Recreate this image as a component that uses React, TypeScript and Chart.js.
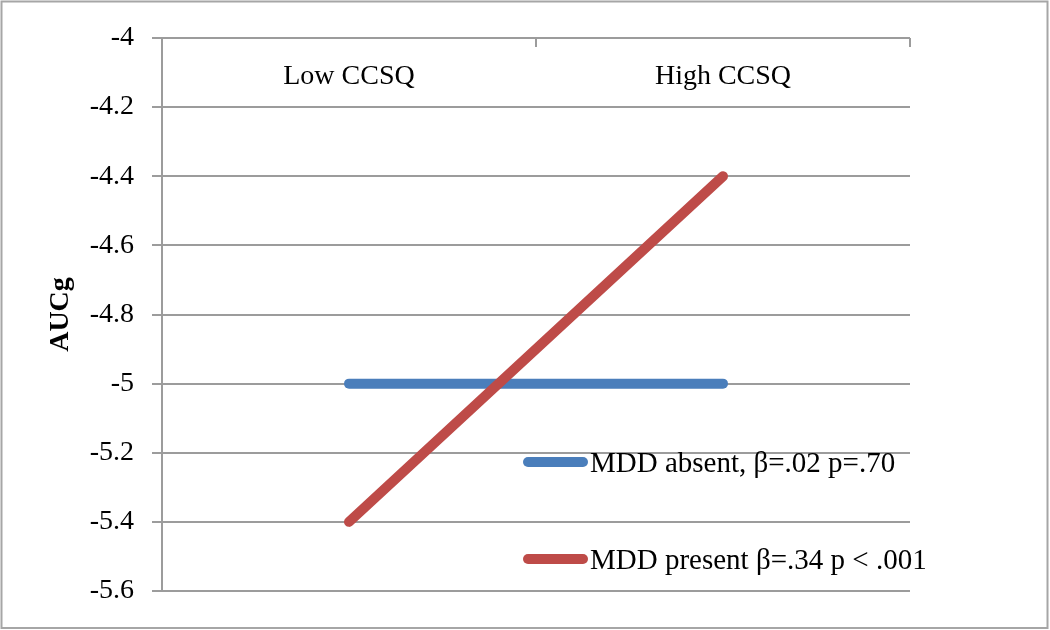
import React, { useEffect, useRef } from "react";
import { Chart, registerables } from "chart.js";

Chart.register(...registerables);

const categories = ["Low CCSQ", "High CCSQ"];
const mddAbsent = [-5.0, -5.0];
const mddPresent = [-5.4, -4.4];
const seriesLabels = ["MDD absent, β=.02 p=.70", "MDD present β=.34 p < .001"];
const yMin = -5.6;
const yMax = -4;
const yStep = 0.2;
const yTitle = "AUCg";

const BLUE = "#4A7EBB";
const RED = "#BE4B48";
const GRID = "#9c9c9c";
const FONT = "'Liberation Serif', 'Times New Roman', serif";

const framePlugin = {
  id: "frame",
  beforeDraw(chart: any) {
    const ctx = chart.ctx;
    ctx.save();
    ctx.fillStyle = "#ffffff";
    ctx.fillRect(0, 0, chart.width, chart.height);
    ctx.strokeStyle = "#a6a6a6";
    ctx.lineWidth = 2;
    ctx.strokeRect(1.5, 1.5, chart.width - 4, chart.height - 3.5);
    ctx.restore();
  },
};

const legendPlugin = {
  id: "insideLegend",
  afterDraw(chart: any) {
    const ctx = chart.ctx;
    const rows = [462, 559];
    ctx.save();
    chart.data.datasets.forEach((ds: any, i: number) => {
      const y = rows[i];
      ctx.strokeStyle = ds.borderColor;
      ctx.lineWidth = 10;
      ctx.lineCap = "round";
      ctx.beginPath();
      ctx.moveTo(528, y);
      ctx.lineTo(583, y);
      ctx.stroke();
      ctx.fillStyle = "#000000";
      ctx.font = `29px ${FONT}`;
      ctx.textBaseline = "alphabetic";
      ctx.textAlign = "left";
      ctx.fillText(ds.label, 590, y + 10);
    });
    ctx.restore();
  },
};

export default function App() {
  const ref = useRef<HTMLCanvasElement | null>(null);

  useEffect(() => {
    document.body.style.margin = "0";
    const canvas = ref.current;
    if (!canvas) return;
    const chart = new Chart(canvas, {
      type: "line",
      data: {
        labels: categories,
        datasets: [
          {
            label: seriesLabels[0],
            data: mddAbsent,
            borderColor: BLUE,
            backgroundColor: BLUE,
            borderWidth: 10,
            borderCapStyle: "round",
            pointRadius: 0,
            order: 1,
          },
          {
            label: seriesLabels[1],
            data: mddPresent,
            borderColor: RED,
            backgroundColor: RED,
            borderWidth: 10,
            borderCapStyle: "round",
            pointRadius: 0,
            order: 0,
          },
        ],
      },
      options: {
        responsive: false,
        animation: false,
        layout: { padding: { left: 0, top: 38, right: 140, bottom: 39 } },
        plugins: {
          legend: { display: false },
          tooltip: { enabled: false },
        },
        scales: {
          x: {
            type: "category",
            position: "top",
            offset: true,
            border: { display: false },
            grid: {
              offset: true,
              drawOnChartArea: false,
              drawTicks: true,
              tickLength: -9,
              color: GRID,
              lineWidth: 2,
            },
            ticks: {
              color: "#000000",
              font: { family: FONT, size: 28 },
              mirror: true,
              padding: 22,
              autoSkip: false,
              maxRotation: 0,
            },
            afterFit(scale: any) {
              scale.height = 0;
            },
          },
          y: {
            position: "left",
            min: yMin,
            max: yMax,
            border: { display: true, color: GRID, width: 2 },
            grid: {
              color: GRID,
              lineWidth: 2,
              drawTicks: true,
              tickLength: 10,
            },
            ticks: {
              stepSize: yStep,
              color: "#000000",
              font: { family: FONT, size: 28 },
              padding: 18,
              callback: (v: any) => String(Number(Number(v).toFixed(1))),
            },
            title: {
              display: true,
              text: yTitle,
              color: "#000000",
              font: { family: FONT, size: 28, weight: "bold" },
              padding: { top: 44, bottom: 0 },
            },
            afterFit(scale: any) {
              scale.width = 162;
            },
          },
        },
      },
      plugins: [framePlugin, legendPlugin],
    });
    return () => chart.destroy();
  }, []);

  return (
    <div style={{ width: 1050, height: 630 }}>
      <canvas ref={ref} width={1050} height={630} style={{ display: "block" }} />
    </div>
  );
}
